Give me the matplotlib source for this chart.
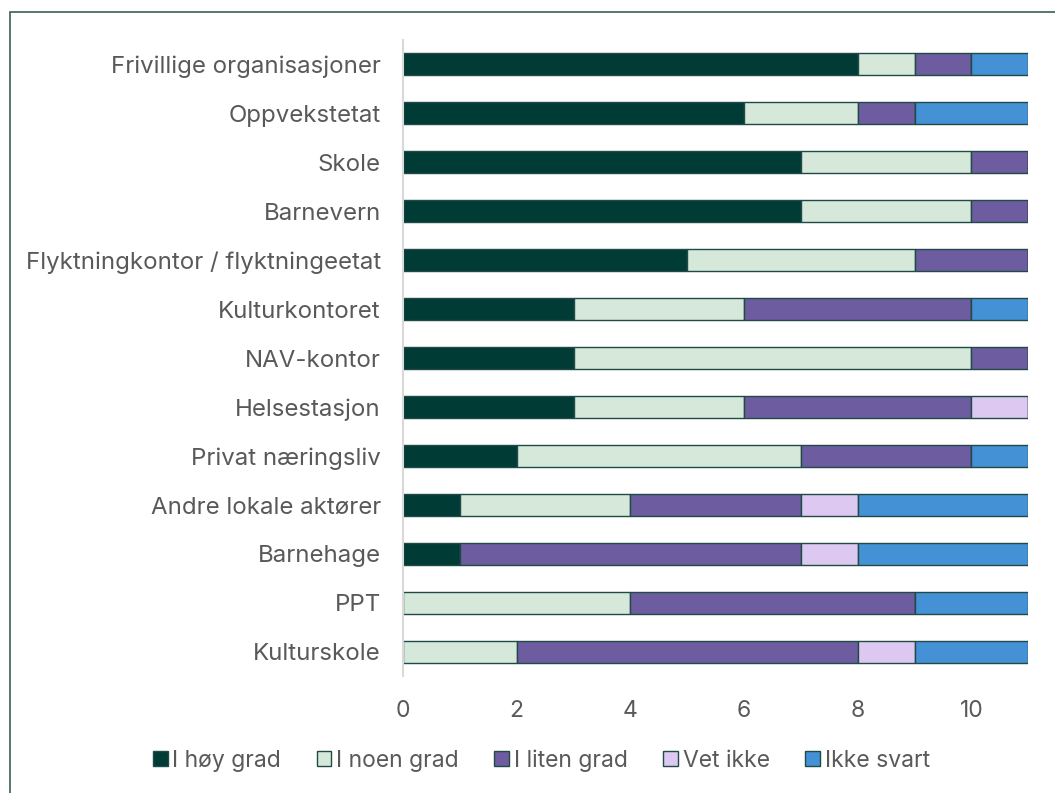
import numpy as np
import matplotlib.pyplot as plt
from matplotlib.patches import Rectangle

plt.rcParams['font.family'] = ['Inter', 'DejaVu Sans']

categories = ['Frivillige organisasjoner', 'Oppvekstetat', 'Skole', 'Barnevern',
              'Flyktningkontor / flyktningeetat', 'Kulturkontoret', 'NAV-kontor',
              'Helsestasjon', 'Privat næringsliv', 'Andre lokale aktører',
              'Barnehage', 'PPT', 'Kulturskole']
series = ['I høy grad', 'I noen grad', 'I liten grad', 'Vet ikke', 'Ikke svart']
hoy = [8, 6, 7, 7, 5, 3, 3, 3, 2, 1, 1, 0, 0]
noen = [1, 2, 3, 3, 4, 3, 7, 3, 5, 3, 0, 4, 2]
liten = [1, 1, 1, 1, 2, 4, 1, 4, 3, 3, 6, 5, 6]
vet = [0, 0, 0, 0, 0, 0, 0, 1, 0, 1, 1, 0, 1]
ikke = [1, 2, 0, 0, 0, 1, 0, 0, 1, 3, 3, 2, 2]
colors = ['#003b36', '#d5e8da', '#6e5ca0', '#dcc8f0', '#4591d6']

fig = plt.figure(figsize=(10.55, 7.93), dpi=100)
ax = fig.add_axes([0.382, 0.147, 0.5926, 0.803])

y = np.arange(len(categories))
left = np.zeros(len(categories))
for name, vals, c in zip(series, [hoy, noen, liten, vet, ikke], colors):
    ax.barh(y, vals, left=left, height=0.45, color=c, edgecolor='#1f4a46',
            linewidth=1.0, label=name)
    left += np.array(vals)

ax.set_xlim(0, 11)
ax.set_ylim(len(categories) - 0.5, -0.5)
ax.set_yticks(y)
ax.set_yticklabels(categories)
ax.set_xticks([0, 2, 4, 6, 8, 10])
ax.tick_params(length=0, labelcolor='#595959')
ax.tick_params(axis='x', pad=17, labelsize=16.5)
ax.tick_params(axis='y', pad=16, labelsize=17.3)
for s in ['top', 'right', 'bottom']:
    ax.spines[s].set_visible(False)
ax.spines['left'].set_color('#d9d9d9')
ax.spines['left'].set_linewidth(1.5)

leg = fig.legend(loc='center', bbox_to_anchor=(0.513, 0.041), ncol=5, frameon=False,
                 fontsize=16.5, handlelength=0.65, handleheight=0.65, handletextpad=0.2,
                 columnspacing=1.55)
for t in leg.get_texts():
    t.set_color('#595959')

fig.patches.append(Rectangle((9.5 / 1055, -0.05), 1.1, 1 - 11.5 / 793 + 0.05,
                             transform=fig.transFigure, fill=False,
                             edgecolor='#3d5f5a', linewidth=1.2))

fig.savefig('out.png', dpi=100)
